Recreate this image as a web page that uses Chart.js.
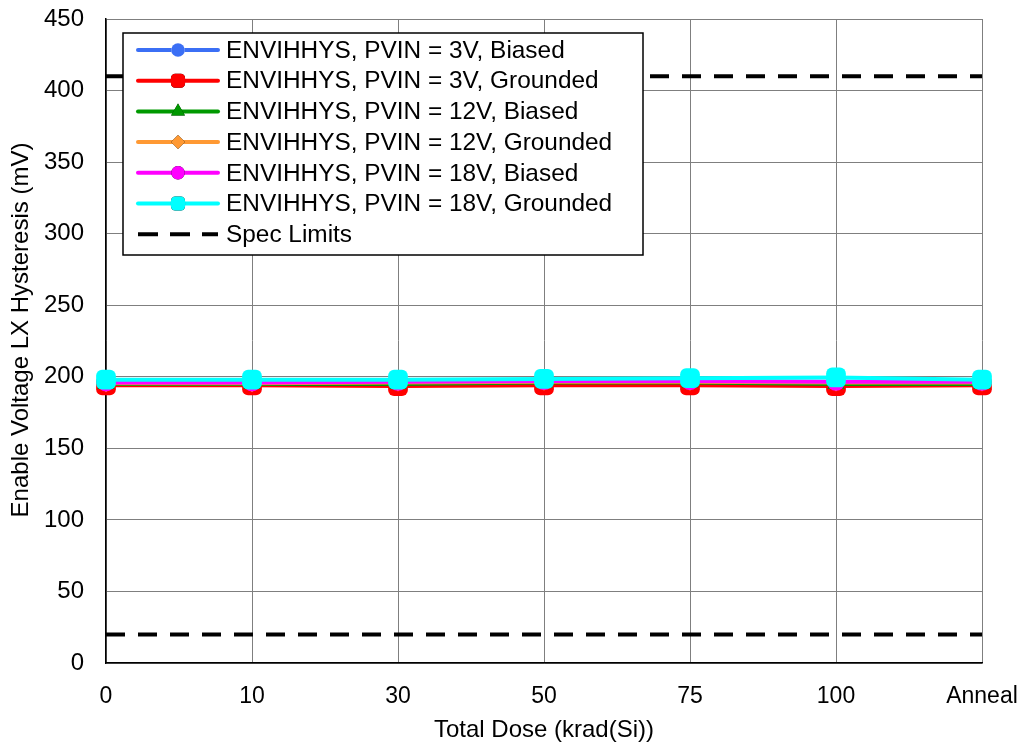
<!DOCTYPE html>
<html><head><meta charset="utf-8">
<script src="https://cdn.jsdelivr.net/npm/chart.js@4.4.1/dist/chart.umd.min.js"></script>
<style>html,body{margin:0;padding:0;background:#fff}#wrap{width:1026px;height:747px}</style>
</head><body><div id="wrap"><canvas id="c" width="1026" height="747"></canvas></div>
<script>
const categories = ['0','10','30','50','75','100','Anneal'];
const pv3Biased    = [195, 195, 194, 195, 195, 194.5, 195];
const pv3Grounded  = [194, 194, 193.5, 194, 194, 193.5, 194];
const pv12Biased   = [195, 195, 195, 196, 196, 195, 195];
const pv12Grounded = [195.5, 195.5, 196, 196.5, 196.5, 196, 196];
const pv18Biased   = [196, 196, 196.5, 197, 197, 196.5, 196.5];
const pv18Grounded = [198, 198, 198, 198.5, 199, 199.5, 198];
const specUpper = [410, 410, 410, 410, 410, 410, 410];
const specLower = [20, 20, 20, 20, 20, 20, 20];
const yTicks = [0,50,100,150,200,250,300,350,400,450];
const yTitle = 'Enable Voltage LX Hysteresis (mV)';
const xTitle = 'Total Dose (krad(Si))';

const FONT = 'Liberation Sans, Arial, sans-serif';

function ds(label, data, color, style, radius, legendRadius, order) {
  return {label, data, borderColor: color, backgroundColor: color, borderWidth: 4,
    pointStyle: style, pointRadius: radius, pointHoverRadius: radius, pointBorderWidth: 0,
    pointBackgroundColor: color, tension: 0, order, legendRadius};
}
const datasets = [
  ds('ENVIHHYS, PVIN = 3V, Biased', pv3Biased, '#3b6ff5', 'circle', 9, 6.8, 7),
  ds('ENVIHHYS, PVIN = 3V, Grounded', pv3Grounded, '#ff0000', 'rectRounded', 11.5, 8.2, 6),
  ds('ENVIHHYS, PVIN = 12V, Biased', pv12Biased, '#009900', 'triangle', 10, 8, 5),
  ds('ENVIHHYS, PVIN = 12V, Grounded', pv12Grounded, '#ff9933', 'rectRot', 9, 7, 4),
  ds('ENVIHHYS, PVIN = 18V, Biased', pv18Biased, '#ff00ff', 'circle', 9, 6.8, 3),
  ds('ENVIHHYS, PVIN = 18V, Grounded', pv18Grounded, '#00ffff', 'rectRounded', 11.5, 8.2, 2),
  {label:'Spec Limits', data: specUpper, borderColor:'#000', borderWidth:4, borderDash:[19,13], pointRadius:0, order:1},
  {label:'Spec Limits', data: specLower, borderColor:'#000', borderWidth:4, borderDash:[19,13], pointRadius:0, order:1, hideLegend:true}
];

const legendPlugin = {
  id: 'boxLegend',
  afterDraw(chart) {
    const ctx = chart.ctx;
    const ca = chart.chartArea;
    const x0 = ca.left + 17, y0 = ca.top + 14, w = 520, h = 222;
    ctx.save();
    ctx.fillStyle = '#fff';
    ctx.fillRect(x0, y0, w, h);
    ctx.strokeStyle = '#000'; ctx.lineWidth = 1.5;
    ctx.strokeRect(x0, y0, w, h);
    const items = chart.data.datasets.filter(d => !d.hideLegend);
    const rowH = 30.7;
    items.forEach((d, i) => {
      const cy = y0 + 17 + i * rowH;
      const lx1 = x0 + 15, lx2 = x0 + 95, mx = (lx1 + lx2) / 2;
      ctx.beginPath();
      ctx.strokeStyle = d.borderColor; ctx.lineWidth = 4; ctx.lineCap = d.borderDash ? 'butt' : 'round';
      ctx.setLineDash(d.borderDash ? [20, 12] : []);
      ctx.moveTo(lx1, cy); ctx.lineTo(lx2, cy); ctx.stroke();
      ctx.setLineDash([]);
      if (d.legendRadius) {
        Chart.helpers.drawPoint(ctx, {pointStyle: d.pointStyle, radius: d.legendRadius, rotation: 0, borderWidth: 0}, mx, cy);
        ctx.fillStyle = d.borderColor;
        ctx.fill();
      }
      ctx.fillStyle = '#000';
      ctx.font = '24.4px ' + FONT;
      ctx.textBaseline = 'middle'; ctx.textAlign = 'left';
      ctx.fillText(d.label, x0 + 103, cy + 1);
    });
    // y-axis title
    ctx.translate(21, (ca.top + ca.bottom) / 2 - 11);
    ctx.rotate(-Math.PI / 2);
    ctx.fillStyle = '#000';
    ctx.font = '24px ' + FONT;
    ctx.textAlign = 'center'; ctx.textBaseline = 'middle';
    ctx.fillText(yTitle, 0, 0);
    ctx.restore();
  }
};

new Chart(document.getElementById('c'), {
  type: 'line',
  data: { labels: categories, datasets },
  plugins: [legendPlugin],
  options: {
    responsive: false, animation: false, devicePixelRatio: 1,
    layout: { padding: { left: 0, right: 44, top: 19, bottom: 0 } },
    plugins: { legend: { display: false }, tooltip: { enabled: false } },
    scales: {
      x: {
        type: 'category', offset: false,
        grid: { color: '#7f7f7f', lineWidth: 1, drawTicks: false },
        border: { color: '#000', width: 1.5 },
        ticks: { color: '#000', font: { family: FONT, size: 23 }, padding: 20, maxRotation: 0, autoSkip: false },
        title: { display: true, text: xTitle, color: '#000', font: { family: FONT, size: 24 }, padding: { top: 4, bottom: 2 } },
        afterFit(s) { s.height = 84; s.paddingLeft = 0; s.paddingRight = 0; }
      },
      y: {
        min: 0, max: 450,
        afterBuildTicks(s) { s.ticks = yTicks.map(v => ({ value: v })); },
        grid: { color: '#7f7f7f', lineWidth: 1, drawTicks: false },
        border: { color: '#000', width: 1.5 },
        ticks: { color: '#000', font: { family: FONT, size: 24 }, padding: 22 },
        title: { display: false },
        afterFit(s) { s.width = 106; s.paddingTop = 0; s.paddingBottom = 0; }
      }
    }
  }
});
</script></body></html>
